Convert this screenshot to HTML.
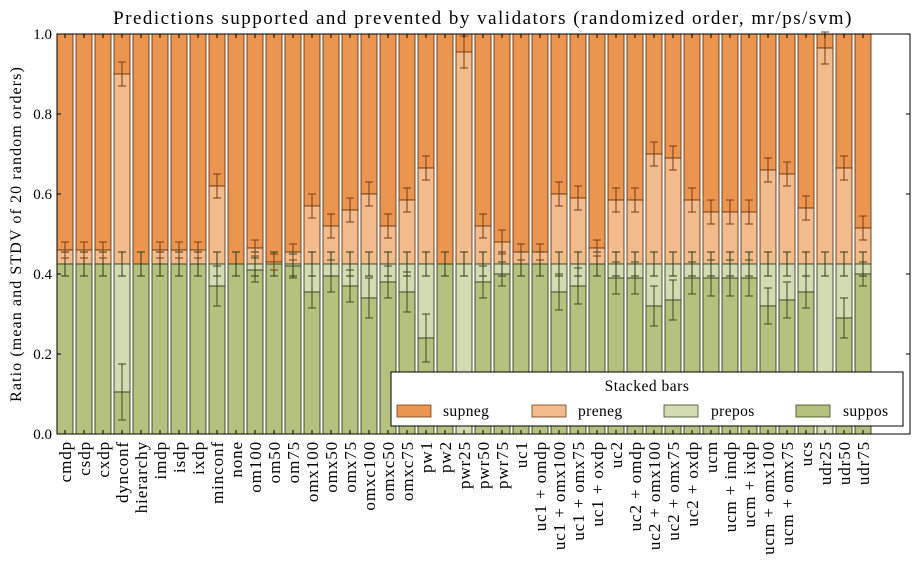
<!DOCTYPE html>
<html><head><meta charset="utf-8"><style>
html,body{margin:0;padding:0;background:#fff;}
svg{display:block;font-family:"Liberation Serif","DejaVu Serif",serif;}
</style></head><body>
<svg id="s" width="919" height="562" viewBox="0 0 919 562" xmlns="http://www.w3.org/2000/svg">
<rect width="919" height="562" fill="#fff"/>
<g id="bars"></g>
<rect x="57" y="34" width="853" height="400" fill="none" stroke="#000" stroke-width="1"/>
<g id="ticks" stroke="#000" stroke-width="1"></g>
<text x="483" y="24" font-size="19" letter-spacing="1.5" text-anchor="middle">Predictions supported and prevented by validators (randomized order, mr/ps/svm)</text>
<text transform="translate(21,234) rotate(-90)" font-size="16" letter-spacing="1.1" text-anchor="middle">Ratio (mean and STDV of 20 random orders)</text>
<g font-size="15" text-anchor="end">
<text x="52" y="439">0.0</text><text x="52" y="359">0.2</text><text x="52" y="279">0.4</text>
<text x="52" y="199">0.6</text><text x="52" y="119">0.8</text><text x="52" y="39">1.0</text>
</g>
<g id="xl" font-size="17" letter-spacing="0.9" text-anchor="end">
<text transform="translate(71,441) rotate(-90)">cmdp</text>
<text transform="translate(90,441) rotate(-90)">csdp</text>
<text transform="translate(109,441) rotate(-90)">cxdp</text>
<text transform="translate(128,441) rotate(-90)">dynconf</text>
<text transform="translate(147,441) rotate(-90)">hierarchy</text>
<text transform="translate(166,441) rotate(-90)">imdp</text>
<text transform="translate(185,441) rotate(-90)">isdp</text>
<text transform="translate(204,441) rotate(-90)">ixdp</text>
<text transform="translate(223,441) rotate(-90)">minconf</text>
<text transform="translate(242,441) rotate(-90)">none</text>
<text transform="translate(261,441) rotate(-90)">om100</text>
<text transform="translate(280,441) rotate(-90)">om50</text>
<text transform="translate(299,441) rotate(-90)">om75</text>
<text transform="translate(318,441) rotate(-90)">omx100</text>
<text transform="translate(337,441) rotate(-90)">omx50</text>
<text transform="translate(356,441) rotate(-90)">omx75</text>
<text transform="translate(375,441) rotate(-90)">omxc100</text>
<text transform="translate(394,441) rotate(-90)">omxc50</text>
<text transform="translate(413,441) rotate(-90)">omxc75</text>
<text transform="translate(432,441) rotate(-90)">pw1</text>
<text transform="translate(451,441) rotate(-90)">pw2</text>
<text transform="translate(470,441) rotate(-90)">pwr25</text>
<text transform="translate(489,441) rotate(-90)">pwr50</text>
<text transform="translate(508,441) rotate(-90)">pwr75</text>
<text transform="translate(527,441) rotate(-90)">uc1</text>
<text transform="translate(546,441) rotate(-90)">uc1 + omdp</text>
<text transform="translate(565,441) rotate(-90)">uc1 + omx100</text>
<text transform="translate(584,441) rotate(-90)">uc1 + omx75</text>
<text transform="translate(603,441) rotate(-90)">uc1 + oxdp</text>
<text transform="translate(622,441) rotate(-90)">uc2</text>
<text transform="translate(641,441) rotate(-90)">uc2 + omdp</text>
<text transform="translate(660,441) rotate(-90)">uc2 + omx100</text>
<text transform="translate(679,441) rotate(-90)">uc2 + omx75</text>
<text transform="translate(698,441) rotate(-90)">uc2 + oxdp</text>
<text transform="translate(717,441) rotate(-90)">ucm</text>
<text transform="translate(736,441) rotate(-90)">ucm + imdp</text>
<text transform="translate(755,441) rotate(-90)">ucm + ixdp</text>
<text transform="translate(774,441) rotate(-90)">ucm + omx100</text>
<text transform="translate(793,441) rotate(-90)">ucm + omx75</text>
<text transform="translate(812,441) rotate(-90)">ucs</text>
<text transform="translate(831,441) rotate(-90)">udr25</text>
<text transform="translate(850,441) rotate(-90)">udr50</text>
<text transform="translate(869,441) rotate(-90)">udr75</text>
</g>
<g>
<rect x="391" y="372" width="512" height="54" fill="#fff" stroke="#000" stroke-width="1"/>
<text x="647" y="391" font-size="15.5" letter-spacing="0.5" text-anchor="middle">Stacked bars</text>
<rect x="397" y="405" width="34" height="12" fill="#EA9651" stroke="#7a3a10" stroke-width="0.8"/>
<text x="443" y="416" font-size="15.5" letter-spacing="0.4">supneg</text>
<rect x="532" y="405" width="34" height="12" fill="#F2BB8C" stroke="#7a3a10" stroke-width="0.8"/>
<text x="578" y="416" font-size="15.5" letter-spacing="0.4">preneg</text>
<rect x="664" y="405" width="34" height="12" fill="#D3DBB2" stroke="#3b4a1f" stroke-width="0.8"/>
<text x="711" y="416" font-size="15.5" letter-spacing="0.4">prepos</text>
<rect x="796" y="405" width="34" height="12" fill="#B4C17F" stroke="#3b4a1f" stroke-width="0.8"/>
<text x="843" y="416" font-size="15.5" letter-spacing="0.4">suppos</text>
</g>
</svg>
<script>
var D=[[.425,.46,.03],[.425,.46,.03],[.425,.46,.03],[.105,.90,.07],[.425,.425,.03],[.425,.46,.03],[.425,.46,.03],[.425,.46,.03],
[.37,.62,.05],[.425,.425,.03],[.41,.465,.03],[.425,.43,.03],[.42,.455,.03],[.355,.57,.04],[.395,.52,.04],[.37,.56,.04],[.34,.60,.05],
[.38,.52,.04],[.355,.585,.05],[.24,.665,.06],[.425,.425,.03],[0,.955,.03],[.38,.52,.04],[.40,.48,.03],[.425,.455,.03],[.425,.455,.03],
[.355,.60,.045],[.37,.59,.045],[.425,.465,.03],[.39,.585,.04],[.39,.585,.04],[.32,.70,.05],[.335,.69,.05],[.39,.585,.04],[.39,.555,.045],
[.39,.555,.045],[.39,.555,.045],[.32,.66,.045],[.335,.65,.045],[.355,.565,.04],[0,.965,.03],[.29,.665,.05],[.40,.515,.03]];
var Y=function(v){return 434-400*v;};
var h='',P=.425;
D.forEach(function(d,i){
 var x=57+19*i,w=16,cx=x+8,s=d[0],n=d[1],e=d[2];
 function r(a,b,f,st){ if(b-a<=0)return; h+='<rect x="'+x+'" y="'+Y(b)+'" width="'+w+'" height="'+(400*(b-a))+'" fill="'+f+'" stroke="'+st+'" stroke-width="0.9"/>';}
 r(n,1,'#EA9651','#6b3210');r(P,n,'#F2BB8C','#6b3210');r(s,P,'#D3DBB2','#33401a');r(0,s,'#B4C17F','#33401a');
 function eb(v,sd,c){h+='<g stroke="'+c+'" stroke-width="1"><line x1="'+cx+'" x2="'+cx+'" y1="'+Y(v-sd)+'" y2="'+Y(v+sd)+'"/><line x1="'+(cx-4)+'" x2="'+(cx+4)+'" y1="'+Y(v-sd)+'" y2="'+Y(v-sd)+'"/><line x1="'+(cx-4)+'" x2="'+(cx+4)+'" y1="'+Y(v+sd)+'" y2="'+Y(v+sd)+'"/></g>';}
 if(s>0&&s<P-.001)eb(s,e,'#3b4a1f');
 eb(P,.03,'#2e3a18');
 if(n>P+.001)eb(n,n>.9?.04:(n-P)<.05?.02:.03,'#7a3a10');
});
document.getElementById('bars').innerHTML=h;
var t='';
for(var i=0;i<43;i++){var cx=65+19*i;t+='<line x1="'+cx+'" x2="'+cx+'" y1="34" y2="38"/><line x1="'+cx+'" x2="'+cx+'" y1="434" y2="430"/>';}
for(var k=0;k<=5;k++){var y=434-80*k;t+='<line x1="57" x2="61" y1="'+y+'" y2="'+y+'"/><line x1="910" x2="906" y1="'+y+'" y2="'+y+'"/>';}
document.getElementById('ticks').innerHTML=t;
</script>
</body></html>
